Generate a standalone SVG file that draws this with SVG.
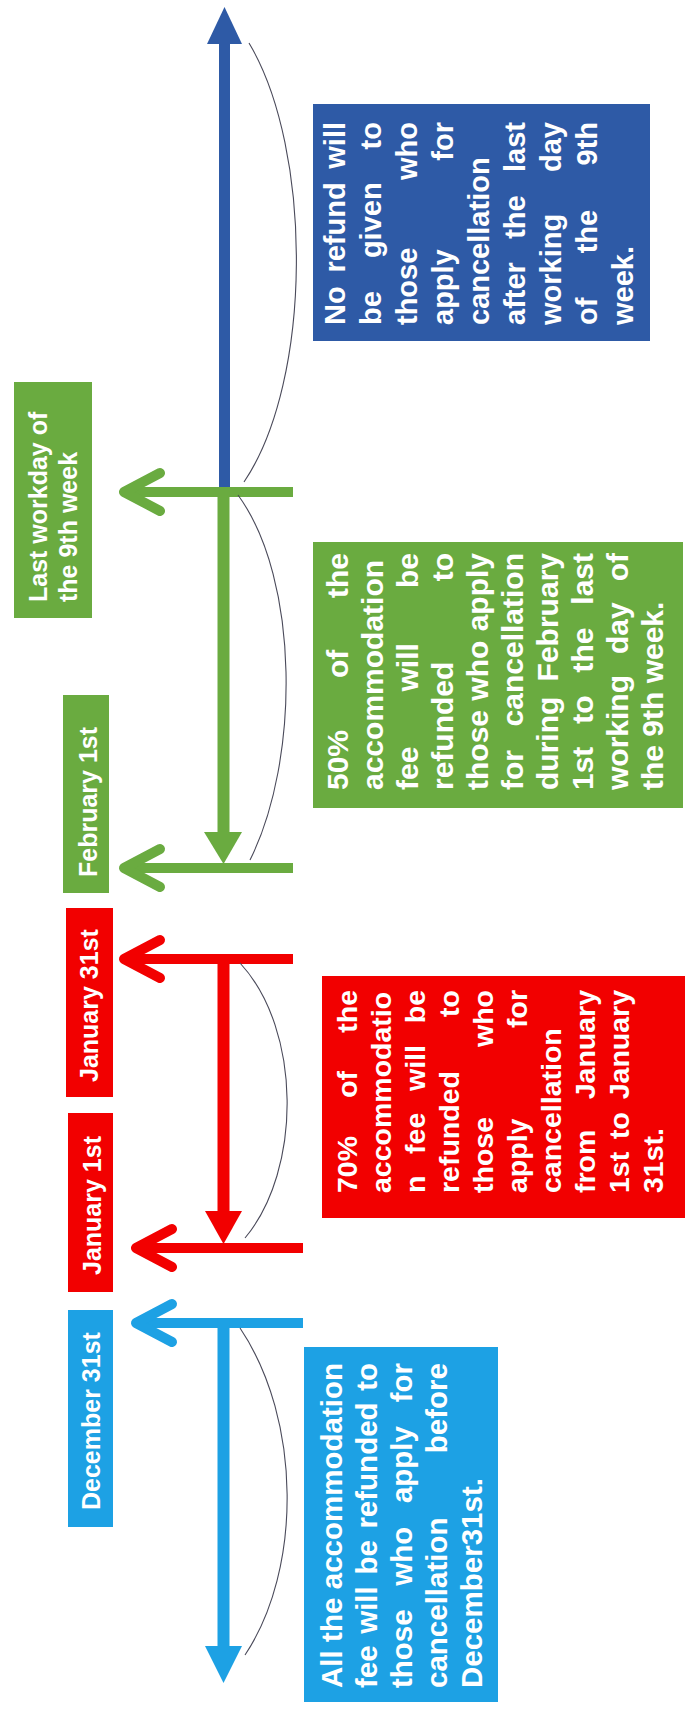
<svg xmlns="http://www.w3.org/2000/svg" width="685" height="1725" viewBox="0 0 685 1725">
<style>
.t{font-family:"Liberation Sans",Arial,sans-serif;font-weight:bold;fill:#fff}
.e{text-anchor:end}
.arc{fill:none;stroke:#4a4a5a;stroke-width:1.1}
.db{fill:#2E5AA6}.gr{fill:#6AAB40}.rd{fill:#F20000}.lb{fill:#1DA1E4}
.sdb{stroke:#2E5AA6}.sgr{stroke:#6AAB40}.srd{stroke:#F20000}.slb{stroke:#1DA1E4}
.ln{fill:none;stroke-linecap:butt}
.ch{fill:none;stroke-width:10;stroke-linecap:round;stroke-linejoin:round}
</style>
<rect width="685" height="1725" fill="#fff"/>

<g id="connectors">
  <!-- dark blue top arrow -->
  <line class="ln sdb" x1="224.5" y1="40" x2="224.5" y2="491" stroke-width="11"/>
  <polygon class="db" points="224.5,7 207,44 242,44"/>
  <path class="arc" d="M249,43 C313,150 313,380 244,482"/>
  <!-- green: last workday -->
  <line class="ln sgr" x1="124" y1="492" x2="293" y2="492" stroke-width="10"/>
  <polyline class="ch sgr" points="160,473 124,492 160,511"/>
  <line class="ln sgr" x1="223.5" y1="487" x2="223.5" y2="835" stroke-width="12"/>
  <polygon class="gr" points="223.5,864 204,832 242,832"/>
  <path class="arc" d="M238,495 C300,580 300,760 250,860"/>
  <!-- green: February 1st -->
  <line class="ln sgr" x1="124" y1="868" x2="293" y2="868" stroke-width="10"/>
  <polyline class="ch sgr" points="160,849 124,868 160,887"/>
  <!-- red: January 31st -->
  <line class="ln srd" x1="124" y1="959" x2="293" y2="959" stroke-width="10"/>
  <polyline class="ch srd" points="160,940 124,959 160,978"/>
  <line class="ln srd" x1="223.5" y1="954" x2="223.5" y2="1214" stroke-width="12"/>
  <polygon class="rd" points="223.5,1244 205,1211 242,1211"/>
  <path class="arc" d="M240,963 C302,1030 302,1170 245,1238"/>
  <!-- red: January 1st -->
  <line class="ln srd" x1="136" y1="1248" x2="303" y2="1248" stroke-width="10"/>
  <polyline class="ch srd" points="172,1229 136,1248 172,1267"/>
  <!-- light blue: December 31st -->
  <line class="ln slb" x1="136" y1="1323" x2="303" y2="1323" stroke-width="10"/>
  <polyline class="ch slb" points="172,1304 136,1323 172,1342"/>
  <line class="ln slb" x1="223.5" y1="1318" x2="223.5" y2="1650" stroke-width="12"/>
  <polygon class="lb" points="223.5,1683 205,1646 242,1646"/>
  <path class="arc" d="M240,1328 C302,1420 302,1570 245,1655"/>
</g>

<g id="label-last-workday" transform="translate(14,618) rotate(-90)">
  <rect class="gr" x="0" y="0" width="236" height="78"/>
  <text class="t" font-size="25"><tspan x="16" y="33">Last workday of</tspan><tspan x="16" y="63">the 9th week</tspan></text>
</g>

<g id="label-feb1" transform="translate(63,893) rotate(-90)">
  <rect class="gr" x="0" y="0" width="198" height="46"/>
  <text class="t" font-size="25" x="16" y="34">February 1st</text>
</g>

<g id="label-jan31" transform="translate(66,1097) rotate(-90)">
  <rect class="rd" x="0" y="0" width="189" height="47"/>
  <text class="t" font-size="25" x="15" y="32">January 31st</text>
</g>

<g id="label-jan1" transform="translate(68,1292) rotate(-90)">
  <rect class="rd" x="0" y="0" width="179" height="45"/>
  <text class="t" font-size="25" x="17" y="33">January 1st</text>
</g>

<g id="label-dec31" transform="translate(68,1527) rotate(-90)">
  <rect class="lb" x="0" y="0" width="217" height="45"/>
  <text class="t" font-size="25" x="17" y="32">December 31st</text>
</g>

<g id="box-no-refund" transform="translate(313,341) rotate(-90)">
  <rect class="db" x="0" y="0" width="237" height="337"/>
  <g class="t" font-size="29">
    <text y="32"><tspan x="16">No</tspan><tspan x="68.4">refund</tspan><tspan x="219" class="e">will</tspan></text>
    <text y="68"><tspan x="16">be</tspan><tspan x="82.9">given</tspan><tspan x="219" class="e">to</tspan></text>
    <text y="104"><tspan x="16">those</tspan><tspan x="219" class="e">who</tspan></text>
    <text y="140"><tspan x="16">apply</tspan><tspan x="219" class="e">for</tspan></text>
    <text y="176" x="16">cancellation</text>
    <text y="212"><tspan x="16">after</tspan><tspan x="102.2">the</tspan><tspan x="219" class="e">last</tspan></text>
    <text y="248"><tspan x="16">working</tspan><tspan x="219" class="e">day</tspan></text>
    <text y="284"><tspan x="16">of</tspan><tspan x="87.7">the</tspan><tspan x="219" class="e">9th</tspan></text>
    <text y="320" x="16">week.</text>
  </g>
</g>

<g id="box-50" transform="translate(313,808) rotate(-90)">
  <rect class="gr" x="0" y="0" width="266" height="370"/>
  <g class="t" font-size="30">
    <text y="35"><tspan x="18">50%</tspan><tspan x="129.9">of</tspan><tspan x="255" class="e">the</tspan></text>
    <text y="70" x="18">accommodation</text>
    <text y="105"><tspan x="18">fee</tspan><tspan x="116.5">will</tspan><tspan x="255" class="e">be</tspan></text>
    <text y="140"><tspan x="18">refunded</tspan><tspan x="255" class="e">to</tspan></text>
    <text y="175"><tspan x="18">those</tspan><tspan x="107.3">who</tspan><tspan x="255" class="e">apply</tspan></text>
    <text y="210"><tspan x="18">for</tspan><tspan x="255" class="e">cancellation</tspan></text>
    <text y="245"><tspan x="18">during</tspan><tspan x="255" class="e">February</tspan></text>
    <text y="280"><tspan x="18">1st</tspan><tspan x="84.3">to</tspan><tspan x="135.5">the</tspan><tspan x="255" class="e">last</tspan></text>
    <text y="315"><tspan x="18">working</tspan><tspan x="154">day</tspan><tspan x="255" class="e">of</tspan></text>
    <text y="350" x="18">the 9th week.</text>
  </g>
</g>

<g id="box-70" transform="translate(322,1218) rotate(-90)">
  <rect class="rd" x="0" y="0" width="242" height="363"/>
  <g class="t" font-size="28.5">
    <text y="35"><tspan x="25">70%</tspan><tspan x="120.2">of</tspan><tspan x="228" class="e">the</tspan></text>
    <text y="69" x="25">accommodatio</text>
    <text y="103"><tspan x="25">n</tspan><tspan x="64.1">fee</tspan><tspan x="127">will</tspan><tspan x="228" class="e">be</tspan></text>
    <text y="137"><tspan x="25">refunded</tspan><tspan x="228" class="e">to</tspan></text>
    <text y="171"><tspan x="25">those</tspan><tspan x="228" class="e">who</tspan></text>
    <text y="205"><tspan x="25">apply</tspan><tspan x="228" class="e">for</tspan></text>
    <text y="239" x="25">cancellation</text>
    <text y="273"><tspan x="25">from</tspan><tspan x="228" class="e">January</tspan></text>
    <text y="307"><tspan x="25">1st</tspan><tspan x="79">to</tspan><tspan x="228" class="e">January</tspan></text>
    <text y="341" x="25">31st.</text>
  </g>
</g>

<g id="box-all" transform="translate(304,1702) rotate(-90)">
  <rect class="lb" x="0" y="0" width="355" height="194"/>
  <g class="t" font-size="29.5">
    <text y="38"><tspan x="14">All</tspan><tspan x="60.1">the</tspan><tspan x="339" class="e">accommodation</tspan></text>
    <text y="73"><tspan x="14">fee</tspan><tspan x="68.2">will</tspan><tspan x="127.4">be</tspan><tspan x="173.4">refunded</tspan><tspan x="339" class="e">to</tspan></text>
    <text y="108"><tspan x="14">those</tspan><tspan x="116.3">who</tspan><tspan x="198.9">apply</tspan><tspan x="339" class="e">for</tspan></text>
    <text y="143"><tspan x="14">cancellation</tspan><tspan x="339" class="e">before</tspan></text>
    <text y="178" x="14">December31st.</text>
  </g>
</g>
</svg>
